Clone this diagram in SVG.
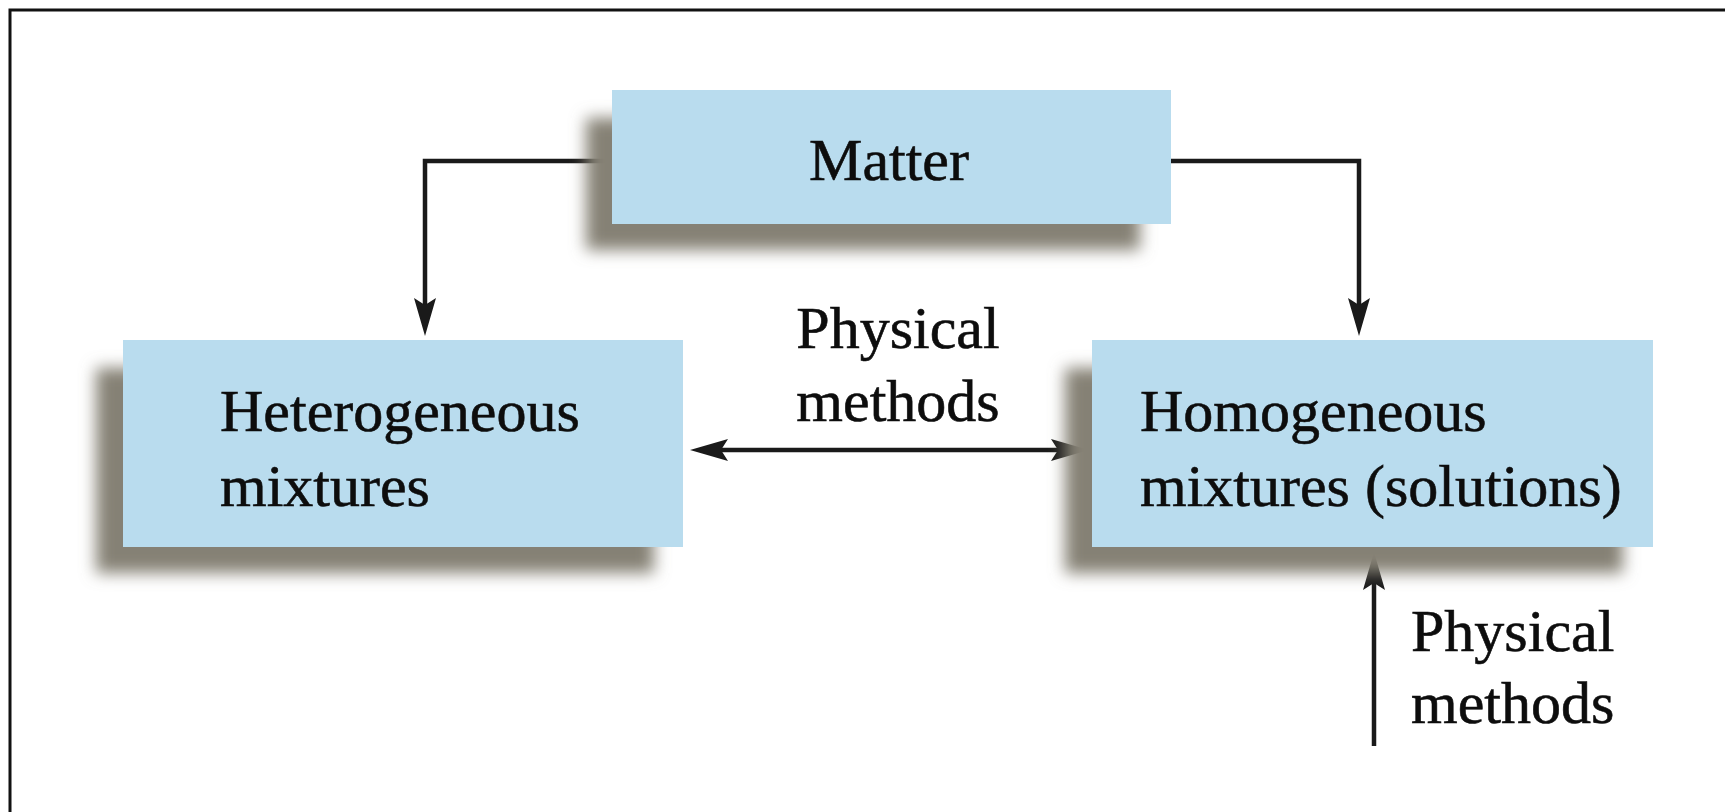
<svg xmlns="http://www.w3.org/2000/svg" width="1725" height="812" viewBox="0 0 1725 812">
  <style>
    .box { fill: #b9dcee; }
    .shadow { fill: #858174; filter: url(#soft); }
    .lbl { font-family: "Liberation Serif", "Times New Roman", serif; font-size: 60px; fill: #0d0d0d; stroke: #0d0d0d; stroke-width: 0.6; }
    .wire { fill: none; stroke: #1a1a1a; stroke-width: 4.5; }
    .head { fill: #1a1a1a; }
  </style>
  <defs>
    <filter id="soft" x="-10%" y="-30%" width="120%" height="160%">
      <feGaussianBlur stdDeviation="8"/>
    </filter>
    <!-- barbed arrowhead pointing right, tip at origin -->
    <path id="barb" d="M0,0 L-38,-11 L-31,0 L-38,11 Z"/>
  </defs>

  <rect width="1725" height="812" fill="#ffffff"/>
  <!-- outer frame -->
  <path d="M10,812 V10 H1725" fill="none" stroke="#111" stroke-width="3"/>

  <g id="connectors">
    <path class="wire" d="M612,161 H425 V305"/>
    <use href="#barb" class="head" transform="translate(425,336) rotate(90)"/>
    <path class="wire" d="M1171,161 H1359 V305"/>
    <use href="#barb" class="head" transform="translate(1359,336) rotate(90)"/>
    <path class="wire" d="M721,450 H1058"/>
    <use href="#barb" class="head" transform="translate(690,450) rotate(180)"/>
    <use href="#barb" class="head" transform="translate(1089,450)"/>
    <path class="wire" d="M1374,746 V583"/>
    <use href="#barb" class="head" transform="translate(1374,552) rotate(-90)"/>
  </g>

  <g id="matter">
    <rect class="shadow" x="586" y="118" width="554" height="132"/>
    <rect class="box" x="612" y="90" width="559" height="134"/>
    <text class="lbl" x="889" y="180" text-anchor="middle">Matter</text>
  </g>

  <g id="heterogeneous">
    <rect class="shadow" x="96" y="368" width="558" height="205"/>
    <rect class="box" x="123" y="340" width="560" height="207"/>
    <text class="lbl" x="220" y="431">Heterogeneous</text>
    <text class="lbl" x="220" y="506">mixtures</text>
  </g>

  <g id="homogeneous">
    <rect class="shadow" x="1065" y="368" width="558" height="205"/>
    <rect class="box" x="1092" y="340" width="561" height="207"/>
    <text class="lbl" x="1140" y="431">Homogeneous</text>
    <text class="lbl" x="1140" y="506">mixtures (solutions)</text>
  </g>

  <g id="label-middle">
    <text class="lbl" x="898" y="348" text-anchor="middle">Physical</text>
    <text class="lbl" x="898" y="421" text-anchor="middle">methods</text>
  </g>

  <g id="label-bottom">
    <text class="lbl" x="1411" y="651">Physical</text>
    <text class="lbl" x="1411" y="723">methods</text>
  </g>
</svg>
